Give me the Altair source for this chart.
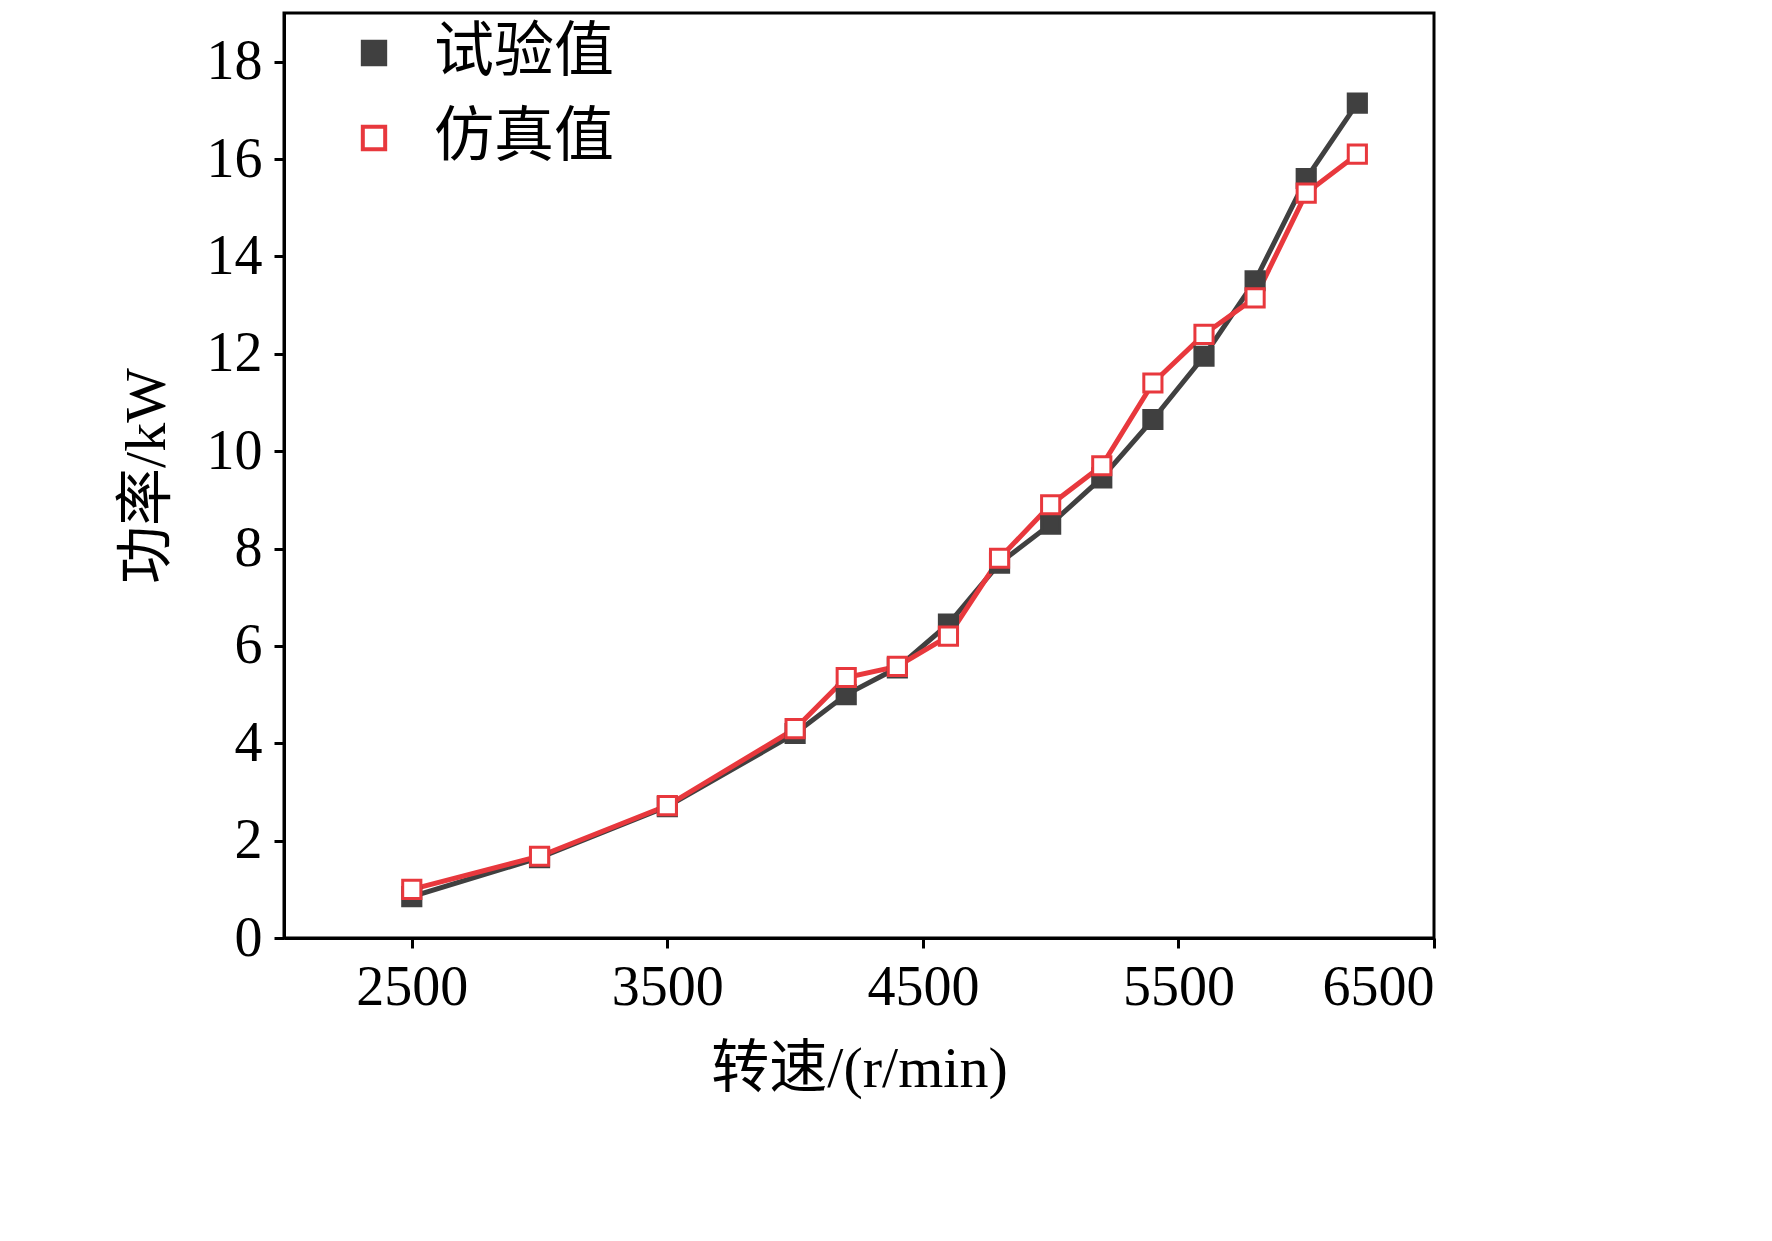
import altair as alt
import pandas as pd

speed = [2500, 3000, 3500, 4000, 4200, 4400, 4600, 4800, 5000, 5200, 5400, 5600, 5800, 6000, 6200]
test_kw = [0.85, 1.65, 2.7, 4.2, 5.0, 5.55, 6.45, 7.7, 8.5, 9.45, 10.65, 11.95, 13.5, 15.6, 17.15]
sim_kw = [1.0, 1.68, 2.72, 4.3, 5.35, 5.58, 6.2, 7.8, 8.9, 9.7, 11.4, 12.4, 13.15, 15.3, 16.1]
series = ["试验值", "仿真值"]
colors = ["#404040", "#e8383d"]
fills = ["#404040", "white"]

FONT = "Liberation Serif, Noto Sans CJK SC"

data = pd.concat([
    pd.DataFrame({"speed": speed, "kw": test_kw, "s": series[0]}),
    pd.DataFrame({"speed": speed, "kw": sim_kw, "s": series[1]}),
])

x = alt.X("speed:Q", title="转速/(r/min)",
          scale=alt.Scale(domain=[2000, 6500], nice=False),
          axis=alt.Axis(values=[2500, 3500, 4500, 5500, 6500], format="d", grid=False))
y = alt.Y("kw:Q", title="功率/kW",
          scale=alt.Scale(domain=[0, 19], nice=False),
          axis=alt.Axis(values=list(range(0, 19, 2)), format="d", grid=False))
color = alt.Color("s:N", scale=alt.Scale(domain=series, range=colors),
                  legend=alt.Legend(title=None, orient="none", legendX=60, legendY=10,
                                    labelFontSize=60, labelFont=FONT, labelLimit=0,
                                    symbolSize=500, symbolStrokeWidth=4, rowPadding=25,
                                    symbolType="square", labelOffset=30))
fill = alt.Fill("s:N", scale=alt.Scale(domain=series, range=fills), legend=None)

lines = alt.Chart(data).mark_line(strokeWidth=5).encode(x=x, y=y, color=color, detail="s:N")
pts = alt.Chart(data).mark_point(shape="square", size=330, strokeWidth=3, opacity=1).encode(
    x=x, y=y, color=color, fill=fill)

chart = (lines + pts).properties(
    width=1150, height=925, padding={"left": 110, "top": 5, "right": 40, "bottom": 5}
).configure_axis(
    labelFont=FONT, titleFont=FONT, labelFontSize=56, titleFontSize=58,
    labelColor="black", titleColor="black", titleFontWeight="normal",
    domainColor="black", tickColor="black", domainWidth=3, tickWidth=3, tickSize=10,
    labelPadding=12,
).configure_axisX(titlePadding=25).configure_axisY(titlePadding=30).configure_view(
    stroke="black", strokeWidth=3
).configure_legend(labelColor="black")

chart.save("out.html", embed_options={"renderer": "svg", "actions": False})
